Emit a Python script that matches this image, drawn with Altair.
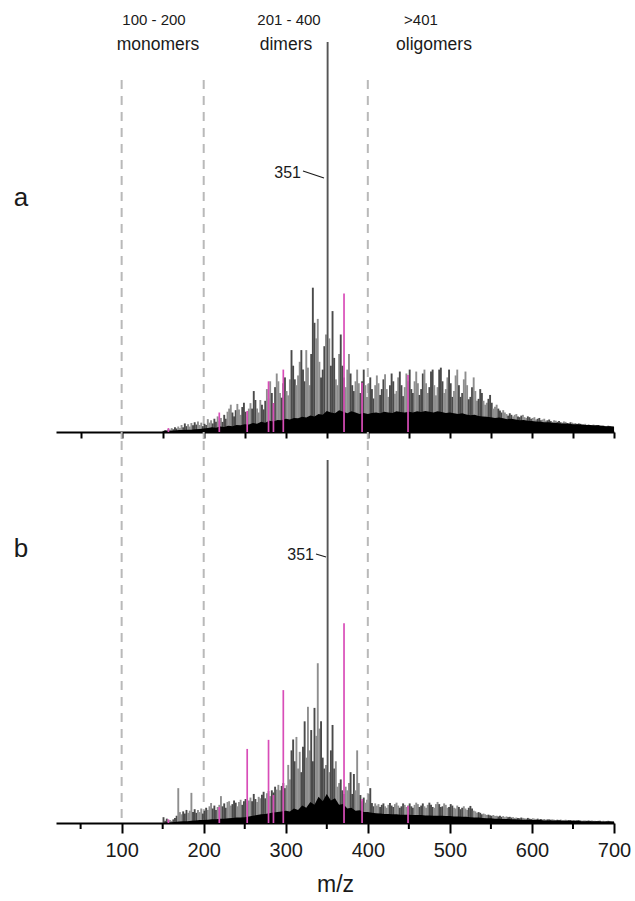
import altair as alt
import pandas as pd

# ---------------- data (relative intensity, % of m/z 351) ----------------
MZ_ODD = list(range(151, 700, 2))      # 151 ... 699
MZ_BLK = list(range(150, 701, 5))      # 150 ... 700

grey_a = [
    0.3, 0.5, 0.4, 0.8, 0.6, 1.0, 0.7, 1.2, 0.9, 1.4,
    1.0, 1.8, 1.2, 2.2, 1.5, 2.0, 1.4, 2.3, 1.7, 2.5,
    1.9, 2.7, 1.8, 2.4, 1.5, 2.1, 1.8, 3.3, 2.4, 3.0,
    2.2, 3.4, 2.6, 4.0, 2.8, 3.6, 2.6, 4.4, 3.4, 5.2,
    6.0, 7.0, 5.0, 4.0, 5.6, 7.2, 5.8, 4.4, 6.4, 7.5,
    5.2, 4.0, 6.0, 7.4, 6.0, 10.5, 8.2, 6.0, 5.0, 8.2,
    7.0, 5.8, 8.0, 11.0, 8.6, 13.0, 10.0, 7.4, 11.5, 15.0,
    13.0, 10.0, 8.8, 12.5, 14.0, 10.5, 9.4, 13.5, 21.0, 17.0,
    13.5, 12.0, 14.5, 18.0, 21.0, 16.0, 13.0, 21.0, 16.5, 12.0,
    20.0, 37.0, 28.0, 24.0, 29.0, 18.0, 14.0, 16.0, 22.0, 25.0,
    100.0, 24.0, 17.0, 31.0, 19.0, 13.5, 12.0, 20.0, 25.0, 17.0,
    14.0, 11.5, 16.0, 20.0, 15.0, 12.0, 10.5, 13.0, 16.0, 12.5,
    10.0, 13.0, 16.0, 12.0, 9.0, 12.5, 14.0, 11.0, 8.6, 12.0,
    14.5, 12.5, 9.5, 11.0, 13.5, 14.8, 11.0, 9.0, 12.0, 15.0,
    13.0, 9.8, 10.5, 14.0, 15.5, 12.0, 9.2, 11.5, 15.0, 13.0,
    16.0, 11.0, 10.0, 13.0, 15.5, 12.5, 9.5, 11.0, 15.0, 16.0,
    12.5, 10.0, 11.5, 15.5, 16.0, 12.0, 9.4, 11.5, 16.0, 16.5,
    13.0, 10.0, 11.0, 14.0, 16.0, 12.5, 9.0, 10.5, 14.5, 16.0,
    12.0, 9.0, 10.0, 13.5, 15.5, 12.0, 8.4, 9.0, 11.5, 14.0,
    10.5, 8.0, 8.5, 11.0, 10.0, 8.0, 7.0, 7.5, 8.5, 9.5,
    7.5, 6.0, 6.5, 7.0, 6.0, 5.5, 5.0, 5.6, 5.0, 4.6,
    4.2, 4.8, 4.4, 4.0, 4.4, 4.6, 4.0, 3.8, 4.2, 4.4,
    3.8, 3.6, 4.0, 3.8, 3.4, 3.6, 3.8, 3.2, 3.4, 3.6,
    3.0, 3.2, 3.4, 2.9, 3.0, 3.2, 2.8, 2.6, 3.0, 2.9,
    2.6, 2.8, 2.5, 2.4, 2.7, 2.6, 2.3, 2.2, 2.5, 2.4,
    2.2, 2.3, 2.0, 2.2, 2.1, 1.9, 2.0, 2.1, 1.8, 1.9,
    1.8, 1.7, 1.9, 1.6, 1.7, 1.8, 1.5, 1.6, 1.7, 1.5,
    1.4, 1.6, 1.5, 1.4, 1.3,
]

black_a = [
    0.2, 0.3, 0.3, 0.4, 0.5, 0.5, 0.6, 0.6, 0.7, 0.8,
    0.9, 1.0, 1.2, 1.1, 1.4, 1.3, 1.6, 1.5, 1.8, 1.7,
    2.0, 1.9, 2.3, 2.1, 2.6, 2.4, 2.9, 2.7, 3.1, 3.0,
    3.4, 3.2, 3.6, 3.5, 3.9, 3.7, 4.2, 4.0, 4.6, 4.4,
    5.4, 5.0, 4.8, 5.6, 5.2, 4.8, 5.3, 5.0, 4.6, 4.9,
    4.6, 4.9, 5.0, 4.8, 5.2, 5.0, 4.9, 5.3, 5.1, 5.0,
    5.2, 5.0, 5.3, 5.1, 5.4, 5.2, 5.0, 5.3, 5.1, 4.9,
    5.0, 4.8, 4.6, 4.8, 4.5, 4.3, 4.4, 4.1, 4.0, 3.9,
    3.8, 3.6, 3.7, 3.5, 3.3, 3.4, 3.2, 3.0, 3.1, 2.9,
    2.8, 2.7, 2.6, 2.5, 2.5, 2.4, 2.3, 2.2, 2.2, 2.1,
    2.0, 2.0, 1.9, 1.8, 1.8, 1.7, 1.7, 1.6, 1.5, 1.5,
    1.4,
]

mag_a_mz = [157, 219, 253, 279, 285, 297, 371, 393, 449]
mag_a_int = [1.0, 5.0, 5.4, 13.0, 7.4, 16.0, 35.5, 12.6, 14.6]

grey_b = [
    1.6, 0.6, 1.2, 0.5, 0.8, 0.6, 1.0, 1.4, 2.0, 9.6,
    3.0, 2.4, 3.2, 2.6, 3.6, 2.8, 3.4, 8.3, 3.0, 3.8,
    2.8, 3.6, 3.0, 4.0, 2.6, 3.4, 4.2, 3.6, 4.6, 5.5,
    4.0, 4.8, 3.6, 4.4, 5.0, 7.4, 4.6, 5.4, 4.2, 5.8,
    6.0, 4.8, 5.2, 6.2, 5.6, 4.6, 5.8, 6.4, 5.0, 6.0,
    6.6, 5.4, 6.2, 7.0, 6.0, 8.0, 6.6, 5.8, 7.2, 6.8,
    7.8, 8.6, 6.8, 8.2, 8.8, 7.4, 9.0, 8.4, 10.0, 9.2,
    10.5, 9.0, 10.2, 11.0, 9.6, 10.4, 16.0, 12.0, 20.0, 23.0,
    17.0, 23.7, 15.0, 19.6, 14.0, 21.0, 28.0, 18.0, 32.0, 20.0,
    25.6, 17.0, 31.7, 24.0, 44.0, 26.0, 28.0, 18.0, 15.0, 16.0,
    100.0, 14.0, 20.0, 27.0, 15.0, 17.0, 10.0, 11.0, 12.0, 9.0,
    8.0, 10.0, 9.0, 11.0, 14.0, 8.0, 13.5, 9.0, 20.0, 11.0,
    7.7, 6.0, 7.0, 5.6, 6.4, 8.0, 9.6, 5.5, 4.6, 5.4,
    4.8, 5.2, 4.4, 5.0, 5.4, 4.6, 4.2, 5.0, 5.5, 4.8,
    4.4, 5.2, 5.6, 4.8, 4.2, 4.6, 5.4, 5.0, 4.4, 4.8,
    5.4, 4.6, 4.2, 5.0, 5.6, 5.2, 4.4, 4.8, 5.4, 4.6,
    4.2, 5.0, 5.6, 5.0, 4.4, 4.2, 5.2, 5.8, 5.2, 4.4,
    4.6, 5.4, 5.0, 4.2, 4.4, 5.2, 4.8, 4.2, 4.0, 4.8,
    4.4, 3.8, 4.2, 4.6, 4.0, 3.6, 4.2, 4.7, 4.0, 3.4,
    3.2, 2.8, 3.0, 2.8, 2.4, 2.6, 2.4, 2.2, 2.3, 2.1,
    2.0, 2.2, 1.9, 2.0, 1.8, 2.0, 1.7, 1.9, 1.6, 1.8,
    1.6, 1.7, 1.5, 1.6, 1.4, 1.5, 1.4, 1.3, 1.5, 1.4,
    1.3, 1.2, 1.4, 1.2, 1.1, 1.3, 1.2, 1.1, 1.2, 1.0,
    1.1, 1.0, 1.1, 0.9, 1.0, 1.0, 0.9, 1.0, 0.9, 0.8,
    0.9, 0.8, 0.9, 0.8, 0.8, 0.9, 0.7, 0.8, 0.8, 0.7,
    0.8, 0.7, 0.7, 0.8, 0.7, 0.6, 0.7, 0.7, 0.6, 0.7,
    0.6, 0.7, 0.6, 0.6, 0.5, 0.6, 0.6, 0.5, 0.6, 0.5,
    0.5, 0.6, 0.5, 0.5, 0.4,
]

black_b = [
    0.1, 0.2, 0.2, 0.3, 0.4, 0.5, 0.5, 0.6, 0.7, 0.8,
    0.8, 0.9, 1.0, 1.0, 1.2, 1.2, 1.3, 1.4, 1.5, 1.5,
    1.6, 1.8, 2.0, 2.2, 2.4, 2.5, 2.7, 2.9, 3.0, 3.2,
    3.4, 3.2, 4.0, 3.6, 4.8, 4.2, 5.8, 5.0, 7.2, 6.0,
    8.0, 6.2, 6.8, 5.0, 5.2, 4.0, 4.2, 3.4, 3.5, 3.0,
    3.0, 2.8, 2.7, 2.6, 2.5, 2.5, 2.4, 2.4, 2.3, 2.3,
    2.3, 2.2, 2.2, 2.2, 2.1, 2.1, 2.0, 2.0, 2.0, 1.9,
    1.9, 1.8, 1.8, 1.7, 1.7, 1.6, 1.5, 1.5, 1.4, 1.3,
    1.3, 1.2, 1.2, 1.1, 1.1, 1.0, 1.0, 0.9, 0.9, 0.9,
    0.8, 0.8, 0.8, 0.7, 0.7, 0.7, 0.7, 0.6, 0.6, 0.6,
    0.6, 0.6, 0.5, 0.5, 0.5, 0.5, 0.5, 0.4, 0.4, 0.4,
    0.4,
]

mag_b_mz = [157, 219, 253, 279, 285, 297, 371, 393, 449]
mag_b_int = [1.0, 4.4, 20.4, 22.9, 7.7, 36.6, 55.0, 6.6, 4.7]

DASH_MZ = [100, 200, 400]
MINOR_TICKS = [50, 150, 250, 350, 450, 550, 650]
ALL_TICKS = list(range(50, 701, 50))
MAJOR_TICKS = list(range(100, 701, 100))

FONT = "Liberation Sans"
W = 558
HA, YMAX_A = 422, 108.2
HB, YMAX_B = 382, 105.2


def shade(mz):
    if mz == 351:
        return "top"
    return "dark" if ((mz - 151) // 6) % 2 == 0 else "light"


def one(text=""):
    return alt.Chart(pd.DataFrame({"t": [text]}))


def panel(grey, black, mmz, mint, H, ymax, axis, top_color, dash_top, dash_bottom):
    xs = alt.Scale(domain=[20, 700], nice=False, zero=False)
    ys = alt.Scale(domain=[0, ymax], nice=False, zero=True)
    X = alt.X("mz:Q", scale=xs, axis=axis)
    dg = pd.DataFrame({"mz": MZ_ODD, "inten": grey,
                       "shade": [shade(m) for m in MZ_ODD]})
    db = pd.DataFrame({"mz": MZ_BLK, "inten": black})
    dm = pd.DataFrame({"mz": mmz, "inten": mint})
    dd = pd.DataFrame({"mz": DASH_MZ})

    dashes = alt.Chart(dd).mark_rule(color="#b9b9b9", strokeWidth=2,
                                     strokeDash=[9, 7]).encode(
        x=X, y=alt.value(dash_top), y2=alt.value(dash_bottom))
    greys = alt.Chart(dg).mark_rule(strokeWidth=1.9).encode(
        x=X, y=alt.Y("inten:Q", scale=ys, axis=None), y2=alt.datum(0),
        color=alt.Color("shade:N", legend=None,
                        scale=alt.Scale(domain=["dark", "light", "top"],
                                        range=["#4a4a4a", "#8e8e8e", top_color])))
    blacks = alt.Chart(db).mark_area(color="#000000", interpolate="linear").encode(
        x=X, y=alt.Y("inten:Q", scale=ys, axis=None))
    mags = alt.Chart(dm).mark_rule(strokeWidth=1.7, color="#d84db8").encode(
        x=X, y=alt.Y("inten:Q", scale=ys, axis=None), y2=alt.datum(0))
    return dashes, greys, blacks, mags, X


def txt(text, x, y, size, align="center"):
    return one(text).mark_text(text=text, font=FONT, fontSize=size, color="#1a1a1a",
                               align=align, baseline="alphabetic").encode(
        x=alt.value(x), y=alt.value(y))


def leader(x1, y1, x2, y2):
    return one().mark_rule(color="#1a1a1a", strokeWidth=1.2).encode(
        x=alt.value(x1), x2=alt.value(x2), y=alt.value(y1), y2=alt.value(y2))


axis_a = alt.Axis(values=ALL_TICKS, labels=False, ticks=True, tickSize=6, tickWidth=2,
                  tickColor="black", domainColor="black", domainWidth=2,
                  grid=False, title=None)
axis_b = alt.Axis(values=MAJOR_TICKS, labels=True, ticks=True, tickSize=10, tickWidth=2,
                  tickColor="black", domainColor="black", domainWidth=2, grid=False,
                  labelFont=FONT, labelFontSize=20, labelColor="#1a1a1a",
                  labelPadding=7, labelFlush=False,
                  title="m/z", titleFont=FONT, titleFontSize=23,
                  titleFontWeight="normal", titleColor="#1a1a1a", titlePadding=13)

d_a, g_a, b_a, m_a, X_a = panel(grey_a, black_a, mag_a_mz, mag_a_int, HA, YMAX_A,
                                axis_a, "#555555", 70, HA + 7)
top_a = alt.layer(
    d_a, g_a, b_a, m_a,
    txt("100 - 200", 98, 14.5, 15),
    txt("monomers", 102, 40, 17.5),
    txt("201 - 400", 233, 14.5, 15),
    txt("dimers", 230, 40, 17.5),
    txt(">401", 365, 14.5, 15),
    txt("oligomers", 378, 40, 17.5),
    txt("351", 245, 168, 16, align="right"),
    leader(247, 161, 268, 168),
    txt("a", -35, 196, 26),
).properties(width=W, height=HA)

d_b, g_b, b_b, m_b, X_b = panel(grey_b, black_b, mag_b_mz, mag_b_int, HB, YMAX_B,
                                axis_b, "#111111", 0, HB)
minor = alt.Chart(pd.DataFrame({"mz": MINOR_TICKS})).mark_rule(
    color="black", strokeWidth=2).encode(x=X_b, y=alt.value(HB), y2=alt.value(HB + 6))
bot_b = alt.layer(
    d_b, g_b, b_b, m_b, minor,
    txt("351", 258, 119, 16, align="right"),
    leader(260, 113, 270, 116),
    txt("b", -35, 116, 26),
).properties(width=W, height=HB)

chart = alt.vconcat(top_a, bot_b, spacing=0).properties(
    padding={"left": 13, "top": 10, "right": 2, "bottom": 2},
    background="white",
).configure_view(stroke=None)

chart.save("out.html", embed_options={"renderer": "svg", "actions": False})
